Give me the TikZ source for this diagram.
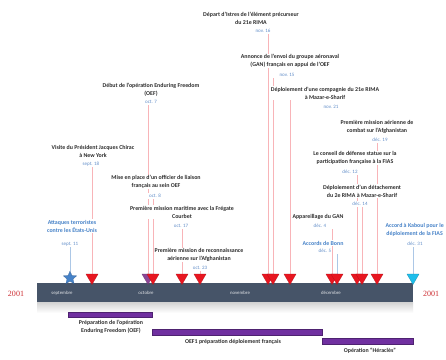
\documentclass[tikz,border=0pt]{standalone}
\usepackage{fontspec}
\setmainfont{Carlito}
\newfontfamily\yrfont{Liberation Serif}
\usetikzlibrary{shapes.geometric,backgrounds}
\definecolor{barc}{RGB}{70,84,104}
\definecolor{evred}{RGB}{232,22,32}
\definecolor{evblue}{RGB}{70,130,200}
\definecolor{evcyan}{RGB}{30,190,235}
\definecolor{evpurp}{RGB}{140,70,150}
\definecolor{purp}{RGB}{112,48,160}
\definecolor{txt}{RGB}{45,45,45}
\definecolor{datec}{RGB}{95,140,200}
\definecolor{yr}{RGB}{205,45,50}
\tikzset{
  title/.style={align=center,font=\fontsize{5.9}{8}\selectfont\bfseries,text=txt,inner sep=0.6pt,fill=white},
  btitle/.style={title,text=evblue},
  datelbl/.style={font=\fontsize{5}{6}\selectfont,text=datec,inner sep=1pt,fill=white},
  rconn/.style={draw=evred!32,line width=0.45pt},
  bconn/.style={draw=evblue!45,line width=0.45pt},
  rmark/.style={regular polygon,regular polygon sides=3,shape border rotate=180,minimum size=14pt,inner sep=0pt,fill=evred,draw=evred!75!black,line width=0.2pt},
  pmark/.style={rmark,fill=evpurp,draw=evpurp!70!black},
  cmark/.style={rmark,fill=evcyan,draw=evcyan!70!black},
  smark/.style={star,star points=5,star point ratio=2.2,minimum size=14pt,inner sep=0pt,fill=evblue,draw=evblue!70!black,line width=0.2pt},
  month/.style={font=\fontsize{4.8}{5}\selectfont,text=white!85!barc},
  year/.style={font=\yrfont\fontsize{8}{9}\selectfont,text=yr},
  pbar/.style={fill=purp,draw=purp!70!black,line width=0.3pt},
  blbl/.style={align=center,font=\fontsize{5.9}{8}\selectfont\bfseries,text=txt,inner sep=0.5pt}
}
\begin{document}
\begin{tikzpicture}[x=1pt,y=-1pt]
\useasboundingbox (0,0) rectangle (446,359);

% timeline bar and reflection
\shade[top color=gray!35,bottom color=white] (37,302) rectangle (413,313);
\node[draw=none,fill=barc,minimum width=376pt,minimum height=19pt,inner sep=0pt] (bar) at (225,292.5) {};
\node[month] (mSep) at (62,293) {septembre};
\node[month] (mOct) at (146,293) {octobre};
\node[month] (mNov) at (240,293) {novembre};
\node[month] (mDec) at (331,293) {décembre};
\node[year] (yL) at (16,294) {2001};
\node[year] (yR) at (431,294) {2001};

% purple bars
\node[pbar,minimum width=84pt,minimum height=5pt,inner sep=0pt] (p1) at (110,314.5) {};
\node[blbl] (p1l) at (111,327) {Préparation de l'opération\\Enduring Freedom (OEF)};
\node[pbar,minimum width=170pt,minimum height=5.5pt,inner sep=0pt] (p2) at (237,332) {};
\node[blbl] (p2l) at (233,341.5) {OEF1 préparation déploiement français};
\node[pbar,minimum width=91pt,minimum height=5.5pt,inner sep=0pt] (p3) at (367.5,341) {};
\node[blbl] (p3l) at (370,351) {Opération “Héraclès”};

% event labels
\node[btitle] (t1) at (72,226) {Attaques terroristes\\contre les États-Unis};
\node[datelbl] (d1) at (70,244) {sept. 11};
\node[title] (t2) at (93,151) {Visite du Président Jacques Chirac\\à New York};
\node[datelbl] (d2) at (91,164) {sept. 18};
\node[title] (t3) at (151,90) {Début de l'opération Enduring Freedom\\(OEF)};
\node[datelbl] (d3) at (151,102) {oct. 7};
\node[title] (t4) at (156,182) {Mise en place d'un officier de liaison\\français au sein OEF};
\node[datelbl] (d4) at (155,196) {oct. 8};
\node[title] (t5) at (182,212) {Première mission maritime avec la Frégate\\Courbet};
\node[datelbl] (d5) at (181,226) {oct. 17};
\node[title] (t6) at (199,255) {Première mission de reconnaissance\\aérienne sur l'Afghanistan};
\node[datelbl] (d6) at (200,268) {oct. 23};
\node[title] (t7) at (251,18) {Départ d'Istres de l'élément précurseur\\du 21e RIMA};
\node[datelbl] (d7) at (263,31) {nov. 16};
\node[title] (t8) at (290,61) {Annonce de l'envoi du groupe aéronaval\\(GAN) français en appui de l'OEF};
\node[datelbl] (d8) at (287,75) {nov. 15};
\node[title] (t9) at (325,93) {Déploiement d'une compagnie du 21e RIMA\\à Mazar-e-Sharif};
\node[datelbl] (d9) at (331,107) {nov. 21};
\node[title] (t10) at (377,127) {Première mission aérienne de\\combat sur l'Afghanistan};
\node[datelbl] (d10) at (380,140) {déc. 19};
\node[title] (t11) at (355,158) {Le conseil de défense statue sur la\\participation française à la FIAS};
\node[datelbl] (d11) at (350,172) {déc. 12};
\node[title] (t12) at (362,191) {Déploiement d'un détachement\\du 2e RIMA à Mazar-e-Sharif};
\node[datelbl] (d12) at (360,204) {déc. 14};
\node[title] (t13) at (318,217) {Appareillage du GAN};
\node[datelbl] (d13) at (320,226) {déc. 4};
\node[btitle] (t14) at (323,243) {Accords de Bonn};
\node[datelbl] (d14) at (325,251) {déc. 5};
\node[btitle,anchor=east] (t15) at (444.5,230) {Accord à Kaboul pour le\\déploiement de la FIAS};
\node[datelbl] (d15) at (415,244) {déc. 31};

% markers
\node[smark] (m1) at (70,278) {};
\node[rmark] (m2) at (92,277.5) {};
\node[pmark] (m3) at (148,277.5) {};
\node[rmark] (m4) at (153,277.5) {};
\node[rmark] (m5) at (182,277.5) {};
\node[rmark] (m6) at (200,277.5) {};
\node[rmark] (m7) at (268,277.5) {};
\node[rmark] (m8) at (273,277.5) {};
\node[rmark] (m9) at (290,277.5) {};
\node[rmark] (m13) at (332,277.5) {};
\node[rmark] (m14) at (337,277.5) {};
\node[rmark] (m11) at (357,277.5) {};
\node[rmark] (m12) at (362,277.5) {};
\node[rmark] (m10) at (377,277.5) {};
\node[cmark] (m15) at (413,277.5) {};

% white page and connectors behind labels
\begin{scope}[on background layer]
\fill[white] (0,0) rectangle (446,359);
\draw[bconn] (m1.north) -- (m1.north |- d1.south);
\draw[rconn] (m2.north) -- (m2.north |- d2.south);
\draw[rconn] (m3.north) -- (m3.north |- d3.south);
\draw[rconn] (m4.north) -- (m4.north |- d4.south);
\draw[rconn] (m5.north) -- (m5.north |- d5.south);
\draw[rconn] (m6.north) -- (m6.north |- d6.south);
\draw[rconn] (m7.north) -- (m7.north |- d7.south);
\draw[rconn] (m8.north) -- (m8.north |- d8.south);
\draw[rconn] (m9.north) -- (m9.north |- t9.south);
\draw[rconn] (m10.north) -- (m10.north |- d10.south);
\draw[rconn] (m11.north) -- (m11.north |- d11.south);
\draw[rconn] (m12.north) -- (m12.north |- d12.south);
\draw[rconn] (m13.north) -- (m13.north |- d13.south);
\draw[bconn] (m14.north) -- (m14.north |- d14.south);
\draw[bconn] (m15.north) -- (m15.north |- d15.south);
\end{scope}
\end{tikzpicture}
\end{document}
